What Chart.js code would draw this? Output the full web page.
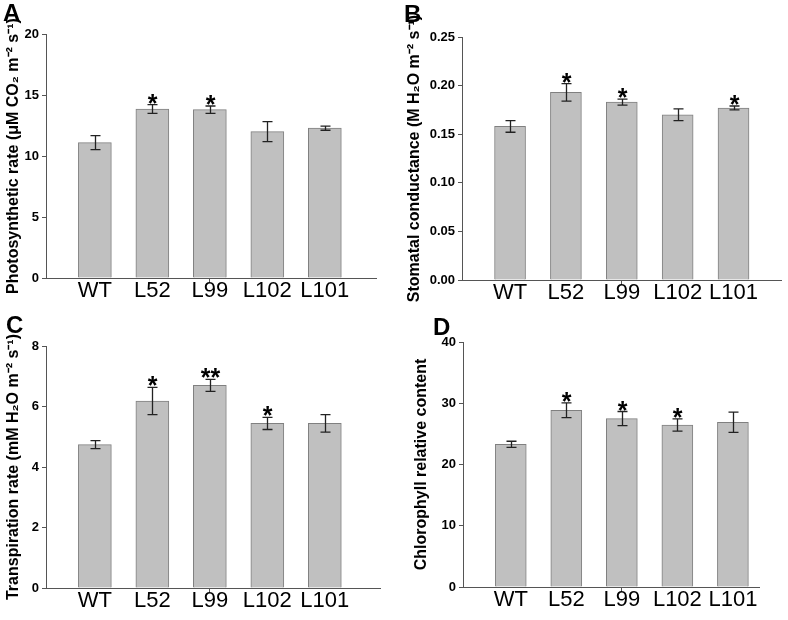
<!DOCTYPE html>
<html>
<head>
<meta charset="utf-8">
<script src="https://cdn.jsdelivr.net/npm/chart.js@4.4.1/dist/chart.umd.min.js"></script>
<style>
  body { margin: 0; background: #fff; width: 788px; height: 620px; position: relative; overflow: hidden; font-family: "Liberation Sans", Arial, sans-serif; }
  .panel { position: absolute; width: 394px; height: 310px; }
  .panel canvas { display: block; }
  .tag { position: absolute; font-weight: bold; font-size: 24px; line-height: 1; }
</style>
</head>
<body>
<div class="panel" style="left:0;top:0"><canvas id="chartA" width="394" height="310"></canvas></div>
<div class="panel" style="left:394px;top:0"><canvas id="chartB" width="394" height="310"></canvas></div>
<div class="panel" style="left:0;top:310px"><canvas id="chartC" width="394" height="310"></canvas></div>
<div class="panel" style="left:394px;top:310px"><canvas id="chartD" width="394" height="310"></canvas></div>
<div class="tag" style="left:3px;top:1px">A</div>
<div class="tag" style="left:404px;top:2px">B</div>
<div class="tag" style="left:6px;top:313px">C</div>
<div class="tag" style="left:433px;top:315px">D</div>

<script>
const categories = ['WT', 'L52', 'L99', 'L102', 'L101'];

// A - photosynthetic rate
const photoMean = [11.1, 13.85, 13.8, 12.0, 12.28];
const photoErr = [0.57, 0.36, 0.3, 0.82, 0.17];
const photoSig = ['', '*', '*', '', ''];
const photoTicks = [0, 5, 10, 15, 20];

// B - stomatal conductance
const stomMean = [0.158, 0.193, 0.183, 0.170, 0.177];
const stomErr = [0.006, 0.009, 0.003, 0.006, 0.002];
const stomSig = ['', '*', '*', '', '*'];
const stomTicks = [0, 0.05, 0.10, 0.15, 0.20, 0.25];

// C - transpiration rate
const transMean = [4.74, 6.18, 6.70, 5.44, 5.44];
const transErr = [0.13, 0.45, 0.2, 0.2, 0.29];
const transSig = ['', '*', '**', '*', ''];
const transTicks = [0, 2, 4, 6, 8];

// D - chlorophyll
const chlMean = [23.3, 28.85, 27.5, 26.45, 26.9];
const chlErr = [0.5, 1.2, 1.15, 1.0, 1.65];
const chlSig = ['', '*', '*', '*', ''];
const chlTicks = [0, 10, 20, 30, 40];

const FONT = '"Liberation Sans", Arial, sans-serif';
const AXIS = '#555';

// error bars + significance stars
const errPlugin = {
  id: 'errbars',
  afterDatasetsDraw(chart) {
    const ds = chart.data.datasets[0];
    const x = chart.scales.x, y = chart.scales.y, ctx = chart.ctx;
    ctx.save();
    ctx.strokeStyle = '#222';
    ctx.lineWidth = 1.3;
    ds.data.forEach((pt, i) => {
      const px = Math.round(x.getPixelForValue(pt.x)) + 0.5;
      const e = ds.errs[i];
      const yt = y.getPixelForValue(pt.y + e), yb = y.getPixelForValue(pt.y - e);
      ctx.beginPath();
      ctx.moveTo(px, yt); ctx.lineTo(px, yb);
      ctx.moveTo(px - 5, yt); ctx.lineTo(px + 5, yt);
      ctx.moveTo(px - 5, yb); ctx.lineTo(px + 5, yb);
      ctx.stroke();
      if (ds.sig[i]) {
        ctx.font = 'bold 25px ' + FONT;
        ctx.textAlign = 'center';
        ctx.textBaseline = 'alphabetic';
        ctx.fillStyle = '#000';
        const m = ctx.measureText(ds.sig[i]);
        ctx.fillText(ds.sig[i], px, yt - 1 - m.actualBoundingBoxDescent);
      }
    });
    ctx.restore();
  }
};

function makeChart(id, mean, err, sig, ticks, title, dec, p) {
  return new Chart(document.getElementById(id), {
    type: 'bar',
    data: {
      datasets: [{
        data: mean.map((v, i) => ({ x: i, y: v })),
        errs: err,
        sig: sig,
        backgroundColor: '#c0c0c0',
        borderColor: '#808080',
        borderWidth: 1,
        barThickness: p.barW
      }]
    },
    options: {
      responsive: false,
      animation: false,
      layout: { padding: { left: 0, top: p.top, right: 394 - p.right, bottom: 0 } },
      plugins: { legend: { display: false }, tooltip: { enabled: false } },
      scales: {
        x: {
          type: 'linear',
          offset: false,
          min: p.xMin,
          max: p.xMax,
          afterBuildTicks: s => { s.ticks = categories.map((c, i) => ({ value: i })); },
          afterFit: s => { s.height = 310 - p.bottom; },
          grid: {
            offset: false,
            drawOnChartArea: false,
            tickLength: 5,
            color: AXIS,
            tickColor: c => c.index === 2 ? AXIS : 'rgba(0,0,0,0)'
          },
          border: { color: AXIS, width: 1 },
          ticks: {
            color: '#000',
            font: { family: FONT, size: 22, lineHeight: 1 },
            padding: -3,
            maxRotation: 0,
            autoSkip: false,
            callback: v => categories[v]
          }
        },
        y: {
          min: 0,
          max: ticks[ticks.length - 1],
          afterBuildTicks: s => { s.ticks = ticks.map(v => ({ value: v })); },
          afterFit: s => { s.width = p.left; },
          grid: { drawOnChartArea: false, tickLength: 4, color: AXIS },
          border: { color: AXIS, width: 1 },
          ticks: {
            color: '#000',
            font: { family: FONT, size: 13, weight: 'bold' },
            padding: 3,
            callback: v => v.toFixed(dec)
          },
          title: {
            display: true,
            text: title,
            color: '#000',
            font: { family: FONT, size: 16, weight: 'bold' },
            padding: { top: p.titlePad, bottom: 0 }
          }
        }
      }
    },
    plugins: [errPlugin]
  });
}

makeChart('chartA', photoMean, photoErr, photoSig, photoTicks,
  'Photosynthetic rate (\u03BCM CO\u2082 m\u207B\u00B2 s\u207B\u00B9)', 0,
  { left: 46, right: 376, top: 34, bottom: 278, xMin: -0.85, xMax: 4.89, barW: 33, titlePad: 4 });

makeChart('chartB', stomMean, stomErr, stomSig, stomTicks,
  'Stomatal conductance (M H\u2082O m\u207B\u00B2 s\u207B\u00B9)', 2,
  { left: 68, right: 387, top: 37, bottom: 280, xMin: -0.86, xMax: 4.85, barW: 31, titlePad: 11 });

makeChart('chartC', transMean, transErr, transSig, transTicks,
  'Transpiration rate (mM H\u2082O m\u207B\u00B2 s\u207B\u00B9)', 0,
  { left: 46, right: 380, top: 36, bottom: 278, xMin: -0.85, xMax: 4.96, barW: 33, titlePad: 4 });

makeChart('chartD', chlMean, chlErr, chlSig, chlTicks,
  'Chlorophyll relative content', 0,
  { left: 69, right: 365, top: 32, bottom: 277, xMin: -0.86, xMax: 4.47, barW: 31, titlePad: 18 });
</script>
</body>
</html>
